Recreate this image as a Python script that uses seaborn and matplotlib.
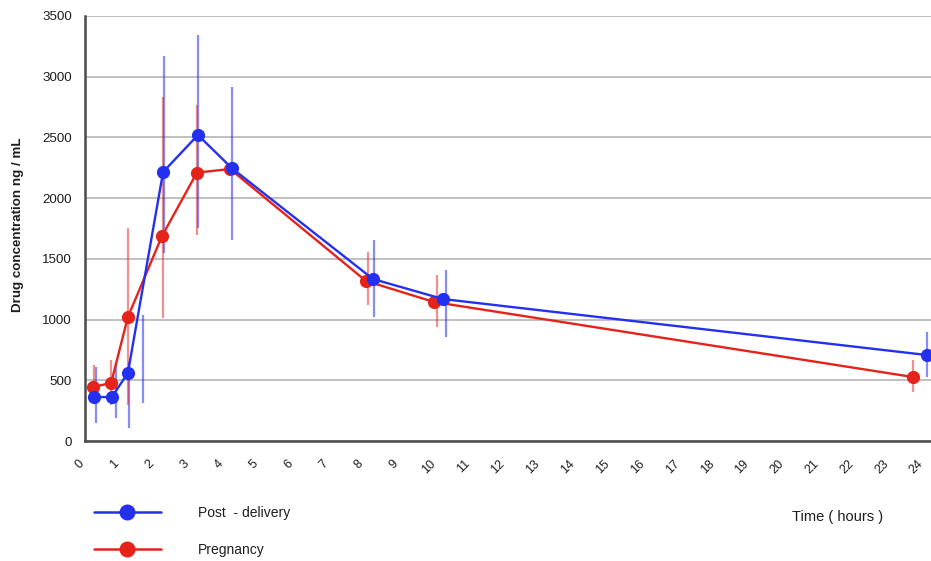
import numpy as np
import pandas as pd
import seaborn as sns
import matplotlib
matplotlib.use("Agg")
import matplotlib.pyplot as plt
import matplotlib.transforms as mtransforms
from matplotlib.lines import Line2D
from matplotlib.ticker import MultipleLocator

# ---- data ----
series_names = ["Post  - delivery", "Pregnancy"]

post_t = [0.26, 0.77, 1.23, 2.24, 3.24, 4.22, 8.26, 10.27, 24.15]
post_c = [362, 362, 560, 2215, 2520, 2245, 1334, 1169, 708]
preg_t = [0.23, 0.75, 1.23, 2.21, 3.21, 4.16, 8.06, 10.01, 23.75]
preg_c = [445, 478, 1021, 1688, 2210, 2240, 1318, 1145, 527]

post_err_t = [0.32, 0.89, 1.26, 1.66, 2.27, 3.24, 4.22, 8.29, 10.36, 24.15]
post_err_lo = [148, 190, 107, 313, 1548, 1754, 1655, 1021, 856, 527]
post_err_hi = [609, 650, 650, 1037, 3170, 3343, 2915, 1655, 1408, 898]
preg_err_t = [0.26, 0.75, 1.23, 2.24, 3.21, 8.12, 10.10, 23.75]
preg_err_lo = [313, 300, 300, 1013, 1700, 1120, 939, 404]
preg_err_hi = [626, 667, 1754, 2833, 2767, 1556, 1367, 667]

x_ticks = list(range(0, 25))
y_ticks = [0, 500, 1000, 1500, 2000, 2500, 3000, 3500]

# ---- style ----
sns.set_theme(style="white")
plt.rcParams["font.family"] = ["Liberation Sans", "DejaVu Sans"]

blue = "#2430f0"
red = "#e5231b"
palette = {series_names[0]: blue, series_names[1]: red}
axis_col = "#4a4a4a"
text_col = "#1e1e1e"

fig = plt.figure(figsize=(9.31, 5.61), dpi=100)
ax = fig.add_axes([85 / 931, (561 - 441) / 561, (931 - 85) / 931, (441 - 16) / 561])

df = pd.concat([
    pd.DataFrame({"t": post_t, "c": post_c, "series": series_names[0]}),
    pd.DataFrame({"t": preg_t, "c": preg_c, "series": series_names[1]}),
])

# error bars
ax.vlines(post_err_t, post_err_lo, post_err_hi, color=blue, alpha=0.55, lw=1.6, zorder=2)
ax.vlines(preg_err_t, preg_err_lo, preg_err_hi, color=red, alpha=0.5, lw=1.6, zorder=2)

sns.lineplot(data=df, x="t", y="c", hue="series",
             hue_order=[series_names[1], series_names[0]],
             palette=palette, marker="o", markersize=9.5, markeredgewidth=0,
             linewidth=1.7, sort=False, estimator=None, legend=False,
             ax=ax, zorder=3)

ax.set_xlim(0, 24.27)
ax.set_ylim(0, 3500)
ax.set_xlabel("")
ax.set_ylabel("Drug concentration ng / mL", fontsize=9.6, color=text_col,
              fontweight="bold", labelpad=14)
ax.yaxis.set_label_coords(-(85 - 24) / 846, 0.51)

ax.yaxis.grid(True, color="#b5b5b5", lw=1.2)
ax.xaxis.grid(False)
ax.set_axisbelow(True)

for s in ["top", "right"]:
    ax.spines[s].set_visible(False)
for s in ["left", "bottom"]:
    ax.spines[s].set_color(axis_col)
    ax.spines[s].set_linewidth(1.8)

ax.set_yticks(y_ticks)
ax.set_yticklabels([str(v) for v in y_ticks])
ax.set_xticks(x_ticks)
ax.set_xticklabels([str(v) for v in x_ticks])
ax.xaxis.set_minor_locator(MultipleLocator(0.5))

ax.tick_params(axis="y", which="major", direction="inout", length=7, width=1.5,
               color=axis_col, labelsize=9.6, labelcolor=text_col, pad=6)
ax.tick_params(axis="x", which="both", direction="inout", length=8, width=1.3,
               color=axis_col, labelsize=9, labelcolor=text_col, pad=8)

offset = mtransforms.ScaledTranslation(-5 / 100, 0, fig.dpi_scale_trans)
for lab in ax.get_xticklabels():
    lab.set_rotation(45)
    lab.set_ha("center")
    lab.set_va("top")
    lab.set_transform(lab.get_transform() + offset)

# legend
handles = [Line2D([], [], color=blue, lw=1.8, marker="o", markersize=11.5, markeredgewidth=0),
           Line2D([], [], color=red, lw=1.8, marker="o", markersize=11.5, markeredgewidth=0)]
fig.legend(handles, series_names, loc="upper left",
           bbox_to_anchor=(94 / 931, 1 - 506 / 561), frameon=False,
           handlelength=4.8, handletextpad=2.7, labelspacing=1.65,
           borderpad=0, borderaxespad=0, fontsize=10, labelcolor=text_col)

fig.text(792 / 931, 1 - 517 / 561, "Time ( hours )", fontsize=10.5, color=text_col,
         ha="left", va="center")

fig.savefig("out.png", dpi=100)
